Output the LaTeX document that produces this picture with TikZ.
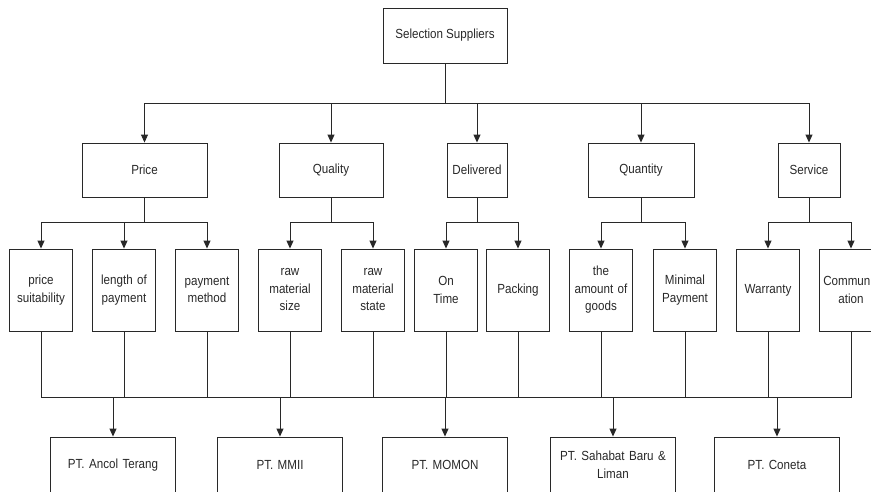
\documentclass[tikz,border=0pt]{standalone}
\usepackage{fontspec}
\setmainfont[FakeStretch=0.88]{Liberation Sans}
\usetikzlibrary{arrows.meta}
\definecolor{chartgray}{RGB}{40,40,40}
\frenchspacing
\newcommand\boxfont{\fontsize{13.2}{17.5}\selectfont\spaceskip=3.1pt\relax}

\begin{document}
\begin{tikzpicture}[x=1pt,y=-1pt]

%
% Styles
%
\tikzstyle{box} = [rectangle,draw=chartgray,line width=0.9pt,text=chartgray,
  font=\boxfont,align=center,inner sep=0pt]
\tikzstyle{topbox} = [box,minimum height=55pt]
\tikzstyle{leaf} = [box,minimum width=63pt,minimum height=82pt,text width=61pt]
\tikzstyle{firm} = [box,minimum width=125pt,minimum height=56pt,text width=110pt]
\tikzstyle{link} = [draw=chartgray,line width=0.9pt]
\tikzstyle{arr} = [link,-{Triangle[length=8pt,width=7pt]}]

\useasboundingbox (0,0) rectangle (871,491);
\clip (0,0) rectangle (871,491);

% goal
\node[topbox,minimum width=124pt] (sel) at (445,35.5) {Selection Suppliers};

% criteria
\node[topbox,minimum width=125pt,minimum height=54pt] (price)   at (144.5,170) {Price};
\node[topbox,minimum width=104pt,minimum height=54pt] (quality) at (331,170)   {Quality};
\node[topbox,minimum width=60pt,minimum height=54pt]  (deliv)   at (477,170)   {Delivered};
\node[topbox,minimum width=106pt,minimum height=54pt] (qty)     at (641,170)   {Quantity};
\node[topbox,minimum width=62pt,minimum height=54pt]  (serv)    at (809,170)   {Service};

% sub criteria
\node[leaf] (suit)   at (41,290)  {price\\suitability};
\node[leaf] (length) at (124,290) {length of\\payment};
\node[leaf] (method) at (207,290) {payment\\method};
\node[leaf] (size)   at (290,290) {raw\\material\\size};
\node[leaf] (state)  at (373,290) {raw\\material\\state};
\node[leaf] (ontime) at (446,290) {On\\Time};
\node[leaf] (pack)   at (518,290) {Packing};
\node[leaf] (amount) at (601,290) {the\\amount of\\goods};
\node[leaf] (minpay) at (685,290) {Minimal\\Payment};
\node[leaf] (warr)   at (768,290) {Warranty};
\node[leaf] (comm)   at (851,290) {Communic\\ation};

% alternatives
\node[firm] (ancol)   at (113,465) {PT. Ancol Terang};
\node[firm] (mmii)    at (280,465) {PT. MMII};
\node[firm] (momon)   at (445,465) {PT. MOMON};
\node[firm] (sahabat) at (613,465) {PT. Sahabat Baru \&\\Liman};
\node[firm] (coneta)  at (777,465) {PT. Coneta};

\coordinate (bus1) at (0,103);
\coordinate (bus2) at (0,222);
\coordinate (bus3) at (0,397);

% goal -> criteria
\draw[link] (sel.south) -- (sel.south |- bus1);
\draw[arr] (sel.south |- bus1) -| (price.north);
\draw[arr] (sel.south |- bus1) -| (quality.north);
\draw[arr] (sel.south |- bus1) -| (deliv.north);
\draw[arr] (sel.south |- bus1) -| (qty.north);
\draw[arr] (sel.south |- bus1) -| (serv.north);

% criteria -> sub criteria
\draw[link] (price.south) -- (price.south |- bus2);
\draw[arr] (price.south |- bus2) -| (suit.north);
\draw[arr] (price.south |- bus2) -| (length.north);
\draw[arr] (price.south |- bus2) -| (method.north);
\draw[link] (quality.south) -- (quality.south |- bus2);
\draw[arr] (quality.south |- bus2) -| (size.north);
\draw[arr] (quality.south |- bus2) -| (state.north);
\draw[link] (deliv.south) -- (deliv.south |- bus2);
\draw[arr] (deliv.south |- bus2) -| (ontime.north);
\draw[arr] (deliv.south |- bus2) -| (pack.north);
\draw[link] (qty.south) -- (qty.south |- bus2);
\draw[arr] (qty.south |- bus2) -| (amount.north);
\draw[arr] (qty.south |- bus2) -| (minpay.north);
\draw[link] (serv.south) -- (serv.south |- bus2);
\draw[arr] (serv.south |- bus2) -| (warr.north);
\draw[arr] (serv.south |- bus2) -| (comm.north);

% sub criteria -> alternatives
\draw[link] (suit.south) |- (comm.south |- bus3) -- (comm.south);
\draw[link] (length.south) -- (length.south |- bus3);
\draw[link] (method.south) -- (method.south |- bus3);
\draw[link] (size.south) -- (size.south |- bus3);
\draw[link] (state.south) -- (state.south |- bus3);
\draw[link] (ontime.south) -- (ontime.south |- bus3);
\draw[link] (pack.south) -- (pack.south |- bus3);
\draw[link] (amount.south) -- (amount.south |- bus3);
\draw[link] (minpay.south) -- (minpay.south |- bus3);
\draw[link] (warr.south) -- (warr.south |- bus3);
\draw[arr] (ancol.north |- bus3) -- (ancol.north);
\draw[arr] (mmii.north |- bus3) -- (mmii.north);
\draw[arr] (momon.north |- bus3) -- (momon.north);
\draw[arr] (sahabat.north |- bus3) -- (sahabat.north);
\draw[arr] (coneta.north |- bus3) -- (coneta.north);

\end{tikzpicture}
\end{document}
